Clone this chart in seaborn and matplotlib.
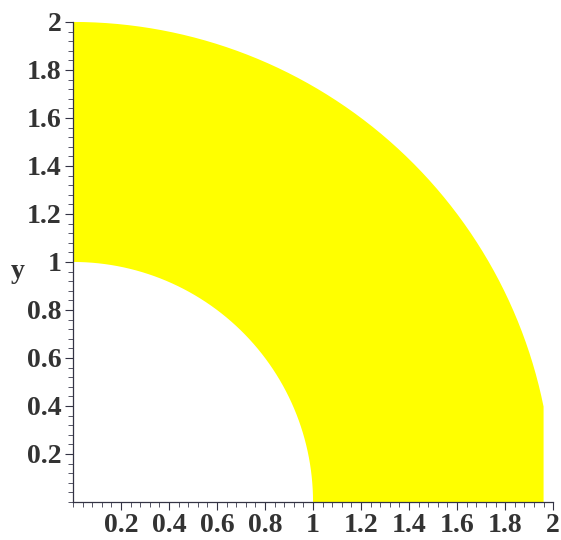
import numpy as np
import matplotlib
matplotlib.use("Agg")
import matplotlib.pyplot as plt
import seaborn as sns
from matplotlib.ticker import MultipleLocator

# data: quarter annulus region (polar sampling as in reference)
r_inner = 1.0
r_outer = 2.0
theta_start = 0.2          # outer boundary sampled down to this angle
theta_end = np.pi / 2
tick_values = [0.2, 0.4, 0.6, 0.8, 1.0, 1.2, 1.4, 1.6, 1.8, 2.0]
tick_labels = ["0.2", "0.4", "0.6", "0.8", "1", "1.2", "1.4", "1.6", "1.8", "2"]

sns.set_style("ticks")
plt.rcParams['font.family'] = ['Liberation Serif', 'DejaVu Serif']

fig = plt.figure(figsize=(5.61, 5.40), dpi=100)
ax = fig.add_axes([0.130, 0.0704, 0.856, 0.889])

th_out = np.linspace(theta_end, theta_start, 60)
th_in = np.linspace(0.0, theta_end, 60)
xs = np.concatenate([r_outer * np.cos(th_out), [r_outer * np.cos(theta_start), r_inner],
                     r_inner * np.cos(th_in)])
ys = np.concatenate([r_outer * np.sin(th_out), [0.0, 0.0], r_inner * np.sin(th_in)])
ax.fill(xs, ys, color="#FFFF00", lw=0)

ax.set_xlim(0, 2)
ax.set_ylim(0, 2)
ax.set_xticks(tick_values)
ax.set_xticklabels(tick_labels)
ax.set_yticks(tick_values)
ax.set_yticklabels(tick_labels)
ax.xaxis.set_minor_locator(MultipleLocator(0.04))
ax.yaxis.set_minor_locator(MultipleLocator(0.04))
ax.tick_params(which="major", direction="out", length=6, width=0.8, color="#333344",
               labelsize=20, pad=2)
ax.tick_params(which="minor", direction="out", length=3.5, width=0.7, color="#555566")
for lab in ax.get_xticklabels() + ax.get_yticklabels():
    lab.set_fontweight("bold")
    lab.set_color("#333333")

sns.despine(ax=ax)
for s in ["left", "bottom"]:
    ax.spines[s].set_color("#333344")
    ax.spines[s].set_linewidth(0.9)

ax.set_ylabel("y", rotation=0, fontsize=20, fontweight="bold", color="#333333")
ax.yaxis.set_label_coords(-0.115, 0.455)

fig.savefig("out.png", dpi=100, facecolor="white")
